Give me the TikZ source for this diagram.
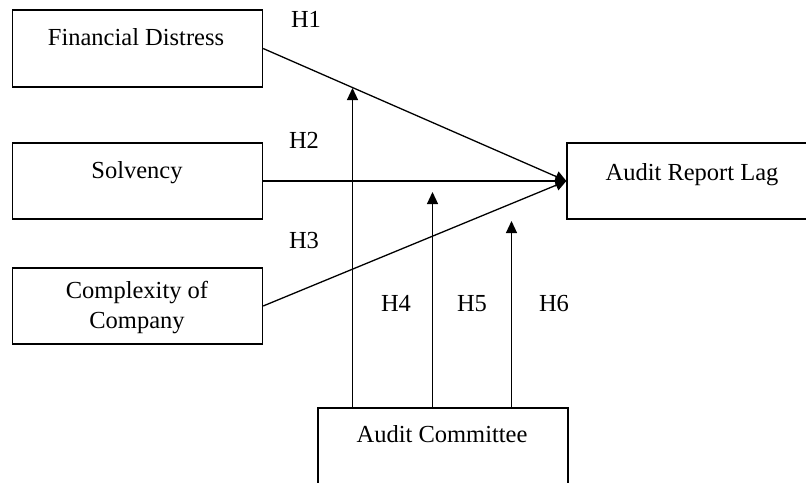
\documentclass[tikz,border=0pt]{standalone}
\usepackage{fontspec}
\setmainfont{Liberation Serif}
\usetikzlibrary{arrows.meta}
\begin{document}
\begin{tikzpicture}[x=1pt,y=-1pt,
  box/.style={draw,line width=1.3pt,rectangle,inner sep=0pt},
  lbl/.style={anchor=base,inner sep=0pt,font=\fontsize{24.5}{27}\selectfont},
  conn/.style={line width=1.3pt,-{Triangle[width=11pt,length=11pt]}},
  mod/.style={line width=1.2pt,-{Triangle[width=11pt,length=12pt]}}]
\useasboundingbox (0,0) rectangle (806,482);
\clip (0,0) rectangle (806,482);
\fill[white] (0,0) rectangle (806,482);
% boxes
\node[box,minimum width=250pt,minimum height=77pt] (fd) at (137.5,48.5) {};
\node[box,minimum width=250pt,minimum height=76pt] (sv) at (137.5,181) {};
\node[box,minimum width=250pt,minimum height=76pt] (cc) at (137.5,306) {};
\node[box,minimum width=243pt,minimum height=76pt] (arl) at (688.5,181) {};
\node[box,minimum width=250pt,minimum height=84pt] (ac) at (443,450) {};
% texts
\node[lbl] (tfd) at (136,45) {Financial Distress};
\node[lbl] (tsv) at (137,178) {Solvency};
\node[lbl] (tcc1) at (137,298) {Complexity of};
\node[lbl] (tcc2) at (137,328) {Company};
\node[lbl] (tarl) at (692,180) {Audit Report Lag};
\node[lbl] (tac) at (442,442) {Audit Committee};
\node[lbl] (h1) at (306,27) {H1};
\node[lbl] (h2) at (304,148) {H2};
\node[lbl] (h3) at (304,248) {H3};
\node[lbl] (h4) at (396,311) {H4};
\node[lbl] (h5) at (472,311) {H5};
\node[lbl] (h6) at (554,311) {H6};
% main connectors
\draw[conn] (fd.east) -- (arl.west);
\draw[conn] (sv.east) -- (arl.west);
\draw[conn] (cc.east) -- (arl.west);
% moderating arrows
\coordinate (t1) at (352.5,88);
\coordinate (t2) at (432.5,192);
\coordinate (t3) at (511.5,221);
\draw[mod] (ac.north -| t1) -- (t1);
\draw[mod] (ac.north -| t2) -- (t2);
\draw[mod] (ac.north -| t3) -- (t3);
\end{tikzpicture}
\end{document}
